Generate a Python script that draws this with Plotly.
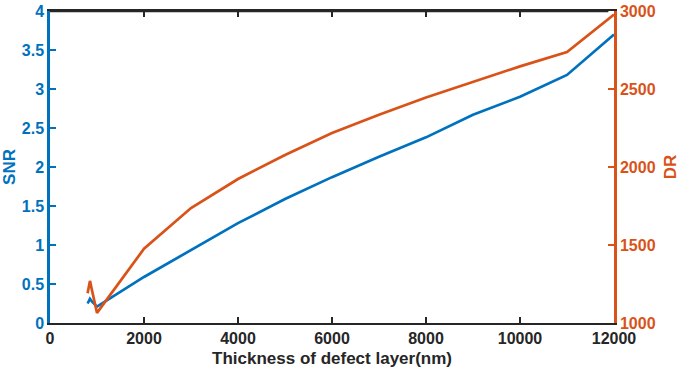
import plotly.graph_objects as go

thickness = [800, 850, 900, 1000, 2000, 3000, 4000, 5000, 6000, 7000, 8000, 9000, 10000, 11000, 12000]
snr = [0.25, 0.31, 0.27, 0.21, 0.59, 0.94, 1.28, 1.59, 1.87, 2.13, 2.38, 2.67, 2.90, 3.18, 3.70]
dr = [1190, 1270, 1200, 1065, 1476, 1737, 1923, 2077, 2218, 2335, 2445, 2545, 2645, 2737, 2978]

x_ticks = [0, 2000, 4000, 6000, 8000, 10000, 12000]
snr_ticks = [0, 0.5, 1, 1.5, 2, 2.5, 3, 3.5, 4]
dr_ticks = [1000, 1500, 2000, 2500, 3000]

BLUE = "#0072BD"
ORANGE = "#D95319"
DARK = "#262626"
FONT = "Liberation Sans"

fig = go.Figure()
fig.add_trace(go.Scatter(x=thickness, y=snr, mode="lines",
                         line=dict(color=BLUE, width=2.7), yaxis="y", showlegend=False))
fig.add_trace(go.Scatter(x=thickness, y=dr, mode="lines",
                         line=dict(color=ORANGE, width=2.7), yaxis="y2", showlegend=False))

# top frame line of the axes box
fig.add_shape(type="line", xref="paper", yref="paper", x0=0, x1=0.99, y0=1, y1=1,
              line=dict(color=DARK, width=2.5), layer="above")

fig.update_layout(
    width=685, height=372,
    margin=dict(l=50, r=71, t=11, b=49),
    paper_bgcolor="white", plot_bgcolor="white",
    font=dict(family=FONT, size=16, color=DARK),
    xaxis=dict(range=[0, 12000], tickvals=x_ticks, ticktext=[str(v) for v in x_ticks],
               showline=True, linecolor=DARK, linewidth=2, mirror="ticks",
               ticks="inside", ticklen=6, tickwidth=1.5, tickcolor=DARK,
               showgrid=False, zeroline=False, automargin=False,
               tickfont=dict(family=FONT, size=16, color=DARK, weight="bold"),
               title=dict(text="<b>Thickness of defect layer(nm)</b>", standoff=6,
                          font=dict(family=FONT, size=17, color=DARK))),
    yaxis=dict(range=[0, 4], tickvals=snr_ticks,
               ticktext=["0", "0.5", "1", "1.5", "2", "2.5", "3", "3.5", "4"],
               showline=True, linecolor=BLUE, linewidth=2.5,
               ticks="inside", ticklen=6, tickwidth=1.5, tickcolor=BLUE,
               showgrid=False, zeroline=False, automargin=False,
               tickfont=dict(family=FONT, size=16, color=BLUE, weight="bold"),
               title=dict(text="<b>SNR</b>", standoff=4,
                          font=dict(family=FONT, size=17, color=BLUE))),
    yaxis2=dict(range=[1000, 3000], tickvals=dr_ticks, overlaying="y", side="right",
                showline=True, linecolor=ORANGE, linewidth=2.5,
                ticks="inside", ticklen=6, tickwidth=1.5, tickcolor=ORANGE,
                showgrid=False, zeroline=False, automargin=False,
                tickfont=dict(family=FONT, size=16, color=ORANGE, weight="bold"),
                title=dict(text="<b>DR</b>", standoff=10,
                           font=dict(family=FONT, size=17, color=ORANGE))),
)

# remove the page's default body margin so the figure fills the window exactly
fig.write_html("out.html", config={"displayModeBar": False},
               post_script="document.body.style.margin='0';")
